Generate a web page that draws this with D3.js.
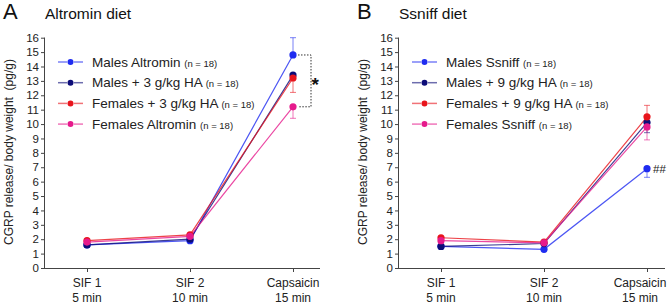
<!DOCTYPE html>
<html><head><meta charset="utf-8">
<script src="https://cdn.jsdelivr.net/npm/d3@7"></script>
<style>body{margin:0;background:#fff}svg{display:block;font-family:Arial,"Liberation Sans",sans-serif}</style>
</head><body><svg id="c" width="669" height="304"></svg>
<script>
const categories = ["SIF 1|5 min", "SIF 2|10 min", "Capsaicin|15 min"];
const yTicks = [0,1,2,3,4,5,6,7,8,9,10,11,12,13,14,15,16];
const colors = ["#1f2cf0", "#0c0c78", "#e8141c", "#e61a8c"];

// Panel A: Altromin diet
const namesA = ["Males Altromin", "Males + 3 g/kg HA", "Females + 3 g/kg HA", "Females Altromin"];
const maleAltromin   = [1.6, 1.9, 14.8];
const maleHA3        = [1.6, 2.0, 13.4];
const femaleHA3      = [1.9, 2.3, 13.2];
const femaleAltromin = [1.8, 2.2, 11.2];
const errA = [[0.1,0.1,1.2],[0.1,0.1,0.3],[0.1,0.1,1.0],[0.1,0.1,0.8]];
const errDirA = [1, -1, -1, -1];

// Panel B: Ssniff diet
const namesB = ["Males Ssniff", "Males + 9 g/kg HA", "Females + 9 g/kg HA", "Females Ssniff"];
const maleSsniff   = [1.5, 1.3, 6.9];
const maleHA9      = [1.5, 1.7, 10.1];
const femaleHA9    = [2.1, 1.8, 10.5];
const femaleSsniff = [1.9, 1.75, 9.8];
const errB = [[0.1,0.1,0.6],[0.1,0.1,0.7],[0.1,0.1,0.8],[0.1,0.1,0.9]];
const errDirB = [-1, -1, 1, -1];

const svg = d3.select("#c");

function panel(ox, letter, title, names, series, errs, dirs, xEnd) {
  const g = svg.append("g");
  const y = d3.scaleLinear().domain([0,16]).range([268, 37.7]);
  const x = d3.scalePoint().domain(categories).range([ox + 42, ox + 248]);
  const axisColor = "#444";

  g.append("text").attr("x", ox - 42).attr("y", 19).attr("font-size", 22).attr("fill", "#111").text(letter);
  g.append("text").attr("x", ox).attr("y", 19).attr("font-size", 15.5).attr("fill", "#111").text(title);

  // y axis
  const ya = g.append("g").attr("transform", `translate(${ox},0)`)
    .call(d3.axisLeft(y).tickValues(yTicks).tickSize(4).tickPadding(2).tickFormat(d3.format("d")));
  ya.select(".domain").attr("stroke", axisColor).attr("d", `M-0.5,${y(16)}V${y(0)}`);
  ya.selectAll(".tick line").attr("stroke", axisColor);
  ya.selectAll(".tick text").attr("font-size", 11.5).attr("fill", "#222").attr("font-family", "Arial, Liberation Sans");

  // x axis
  const xa = g.append("g").attr("transform", `translate(0,${y(0)})`)
    .call(d3.axisBottom(x).tickSize(4).tickFormat(""));
  xa.select(".domain").attr("stroke", axisColor).attr("d", `M${ox-3},0.5H${xEnd}`);
  xa.selectAll(".tick line").attr("stroke", axisColor);
  categories.forEach(c => {
    const [a, b] = c.split("|");
    const cx = Math.min(x(c), 640);
    g.append("text").attr("x", cx).attr("y", 287).attr("text-anchor", "middle").attr("font-size", 12).attr("fill", "#222").text(a);
    g.append("text").attr("x", cx).attr("y", 302).attr("text-anchor", "middle").attr("font-size", 12).attr("fill", "#222").text(b);
  });

  // y label
  g.append("text").attr("transform", `translate(${ox - 32},${152}) rotate(-90)`)
    .attr("text-anchor", "middle").attr("font-size", 12).attr("fill", "#222")
    .attr("xml:space", "preserve").text("CGRP release/ body weight  (pg/g)");

  const line = d3.line().x((d, i) => x(categories[i])).y(d => y(d));
  series.forEach((s, k) => {
    g.append("path").datum(s).attr("d", line).attr("fill", "none")
      .attr("stroke", colors[k]).attr("stroke-opacity", 0.8).attr("stroke-width", 1.2);
  });
  series.forEach((s, k) => {
    s.forEach((v, i) => {
      const cx = x(categories[i]);
      const e = errs[k][i] * dirs[k];
      const ey = y(v + e);
      g.append("line").attr("x1", cx).attr("x2", cx).attr("y1", y(v)).attr("y2", ey)
        .attr("stroke", colors[k]).attr("stroke-opacity", 0.6).attr("stroke-width", 1);
      g.append("line").attr("x1", cx - 3).attr("x2", cx + 3).attr("y1", ey).attr("y2", ey)
        .attr("stroke", colors[k]).attr("stroke-opacity", 0.6).attr("stroke-width", 1);
    });
  });
  series.forEach((s, k) => {
    g.selectAll(null).data(s).enter().append("circle")
      .attr("cx", (d, i) => x(categories[i])).attr("cy", d => y(d)).attr("r", 3.6)
      .attr("fill", colors[k]);
  });

  // legend
  names.forEach((n, k) => {
    const ly = 62 + k * 20.7;
    const lx = ox + 13;
    g.append("line").attr("x1", lx).attr("x2", lx + 9).attr("y1", ly).attr("y2", ly)
      .attr("stroke", colors[k]).attr("stroke-opacity", 0.6).attr("stroke-width", 1.5);
    g.append("line").attr("x1", lx + 16).attr("x2", lx + 25).attr("y1", ly).attr("y2", ly)
      .attr("stroke", colors[k]).attr("stroke-opacity", 0.6).attr("stroke-width", 1.5);
    g.append("circle").attr("cx", lx + 12.5).attr("cy", ly).attr("r", 3).attr("fill", colors[k]);
    const t = g.append("text").attr("x", lx + 34).attr("y", ly + 4.5).attr("font-size", 13.5).attr("fill", "#222");
    t.append("tspan").text(n + " ");
    t.append("tspan").attr("font-size", 9.5).text("(n = 18)");
  });
  return {x, y, g};
}

const pA = panel(45, "A", "Altromin diet", namesA,
  [maleAltromin, maleHA3, femaleHA3, femaleAltromin], errA, errDirA, 320);
const pB = panel(399, "B", "Ssniff diet", namesB,
  [maleSsniff, maleHA9, femaleHA9, femaleSsniff], errB, errDirB, 665);

// significance bracket A
{
  const {x, y, g} = pA;
  const cx = x(categories[2]);
  const y1 = y(maleAltromin[2]), y2 = y(femaleAltromin[2]);
  g.append("path").attr("d", `M${cx+5},${y1}H${cx+18}V${y2}H${cx+5}`)
    .attr("fill", "none").attr("stroke", "#333").attr("stroke-width", 1).attr("stroke-dasharray", "1.5,1.5");
  g.append("text").attr("x", cx + 18.5).attr("y", (y1 + y2) / 2 + 10).attr("font-size", 19).attr("font-weight", "bold").attr("fill", "#111").text("*");
}
{
  const {x, y, g} = pB;
  const cx = x(categories[2]);
  g.append("text").attr("x", cx + 6).attr("y", y(maleSsniff[2]) + 4).attr("font-size", 11.5).attr("fill", "#222").text("##");
}
</script></body></html>
